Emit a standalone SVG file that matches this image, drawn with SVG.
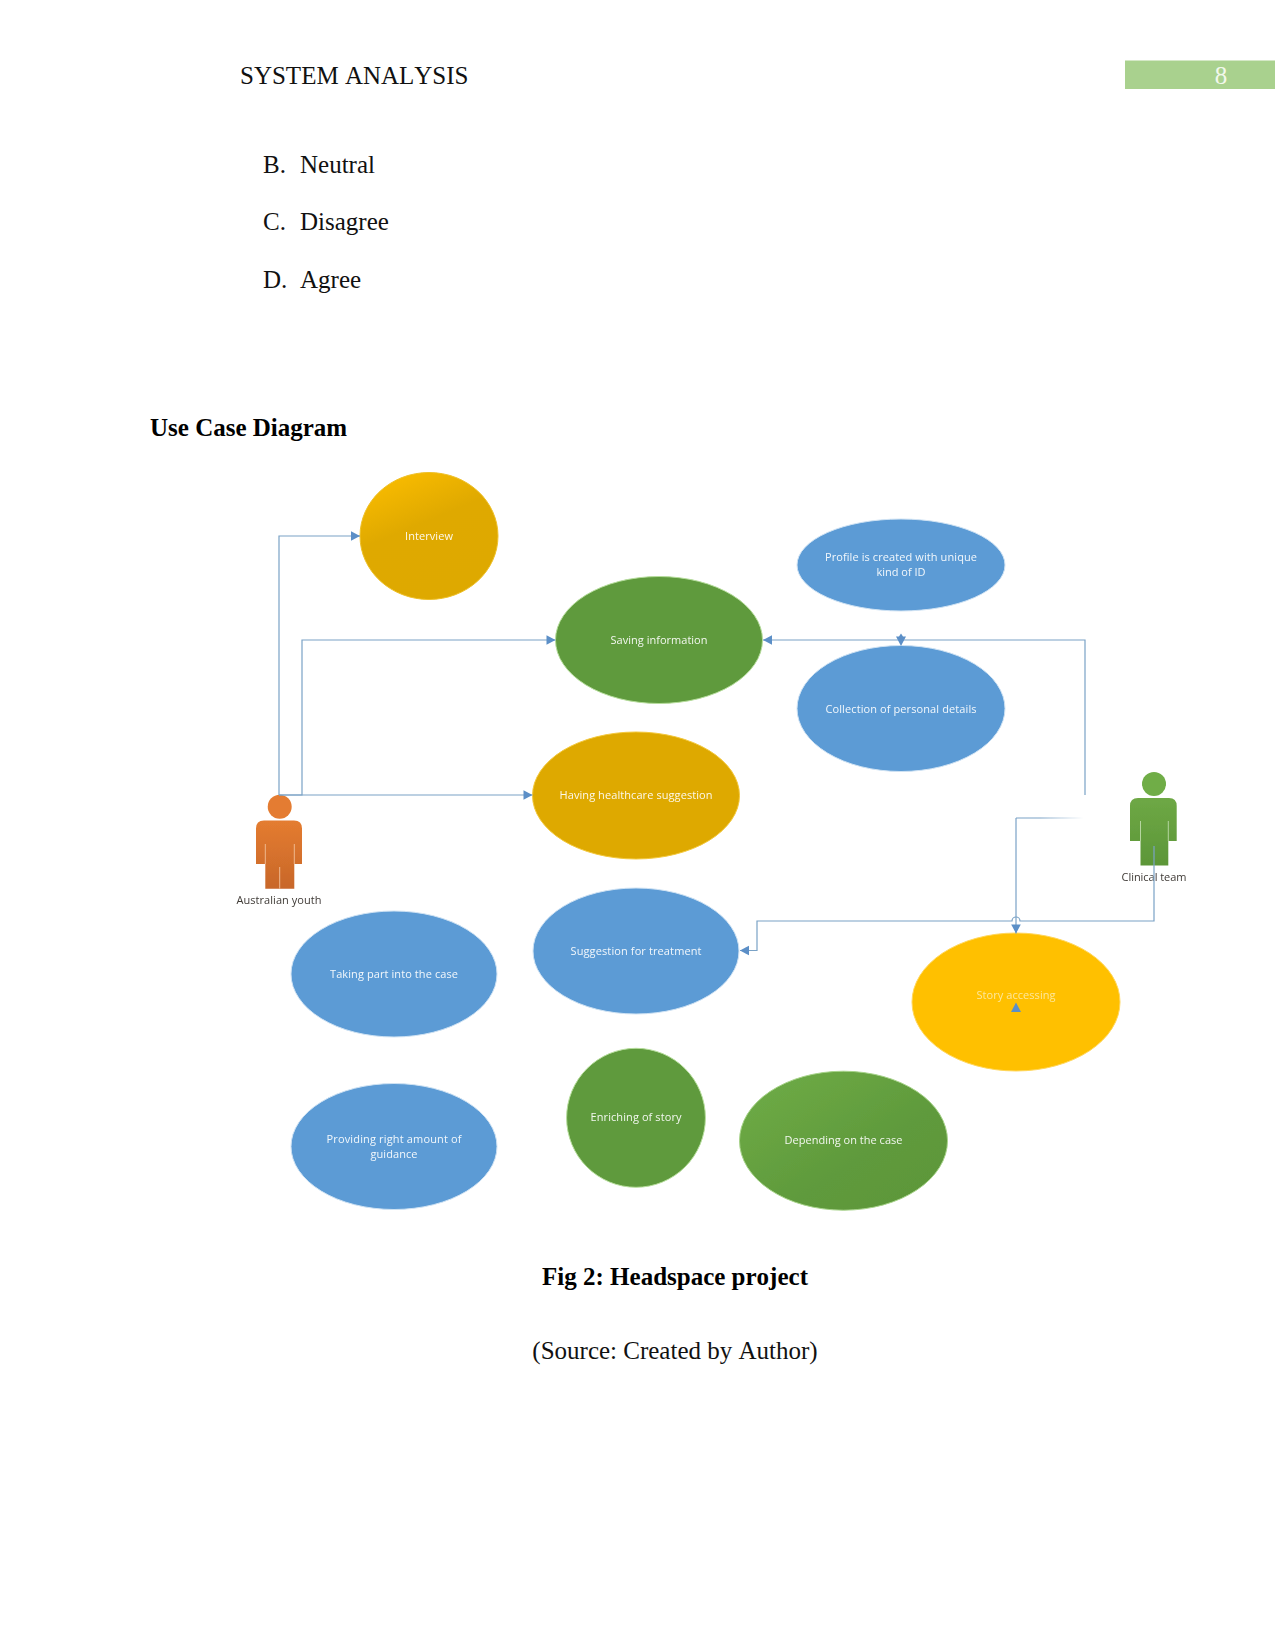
<svg xmlns="http://www.w3.org/2000/svg" width="1275" height="1650" viewBox="0 0 1275 1650">
  <style>
    .page { font-family: "Liberation Serif", "Times New Roman", serif; font-size: 25px; fill: #111; font-kerning: none; }
    .bold { font-weight: bold; fill: #000; }
    .mid { text-anchor: middle; }
    .uc { font-family: "Open Sans", "Noto Sans", sans-serif; font-size: 11px; fill: #fff; text-anchor: middle; dominant-baseline: central; opacity: .92; }
    .actor { font-family: "Open Sans", "Noto Sans", sans-serif; font-size: 11px; fill: #3f3a36; text-anchor: middle; }
    .link { fill: none; stroke: #7aa2c6; stroke-width: 1.2; }
    .tip { fill: #5b8fc7; stroke: none; }
    .blue { fill: #5b9bd5; stroke: #cfe2f3; stroke-width: 1; }
    .green { fill: #5f9a3c; stroke: #b6dd9c; stroke-width: 1; }
    .gold { fill: #dea900; stroke: #f3c83d; stroke-width: 1; }
    .amber { fill: #ffc000; stroke: #ffd65c; stroke-width: 1; }
    .slit { fill: none; stroke-width: 1; }
  </style>
  <defs>
    <linearGradient id="goldFade" x1="0" y1="0" x2="0.45" y2="1">
      <stop offset="0" stop-color="#ffc000"/>
      <stop offset="0.5" stop-color="#dfa900"/>
      <stop offset="1" stop-color="#dea900"/>
    </linearGradient>
    <linearGradient id="greenFade" x1="0" y1="0" x2="1" y2="1">
      <stop offset="0" stop-color="#70ad47"/>
      <stop offset="0.6" stop-color="#5f9a3c"/>
      <stop offset="1" stop-color="#5c9638"/>
    </linearGradient>
    <linearGradient id="orangeBody" x1="0" y1="0" x2="0" y2="1">
      <stop offset="0" stop-color="#e47c30"/>
      <stop offset="1" stop-color="#c8672a"/>
    </linearGradient>
    <linearGradient id="greenBody" x1="0" y1="0" x2="0" y2="1">
      <stop offset="0" stop-color="#6ea845"/>
      <stop offset="1" stop-color="#5c9638"/>
    </linearGradient>
    <linearGradient id="fadeOut" gradientUnits="userSpaceOnUse" x1="1040" y1="0" x2="1084" y2="0">
      <stop offset="0" stop-color="#7aa2c6"/>
      <stop offset="1" stop-color="#7aa2c6" stop-opacity="0"/>
    </linearGradient>
    <filter id="soft" x="-5%" y="-5%" width="110%" height="110%">
      <feGaussianBlur stdDeviation="0.45"/>
    </filter>
    <marker id="arrow" markerUnits="userSpaceOnUse" markerWidth="12" markerHeight="12" refX="10" refY="6" orient="auto">
      <path class="tip" d="M1,1.2 L10,6 L1,10.8 Z"/>
    </marker>
  </defs>

  <rect width="1275" height="1650" fill="#fff"/>

  <!-- running header -->
  <g id="header">
    <text class="page" x="240" y="83.5">SYSTEM ANALYSIS</text>
    <rect x="1125" y="60.5" width="150" height="28.5" fill="#a9d18e"/>
    <text class="page" x="1221" y="83.5" text-anchor="middle" style="fill:#f2f8ec">8</text>
  </g>

  <!-- answer options -->
  <g id="options">
    <text class="page" x="263" y="173">B.</text><text class="page" x="300" y="173">Neutral</text>
    <text class="page" x="263" y="230">C.</text><text class="page" x="300" y="230">Disagree</text>
    <text class="page" x="263" y="288">D.</text><text class="page" x="300" y="288">Agree</text>
  </g>

  <text id="heading" class="page bold" x="150" y="436">Use Case Diagram</text>

  <g id="diagram" filter="url(#soft)">
    <g id="uc-interview">
      <ellipse cx="429" cy="536" rx="69" ry="63.5" fill="url(#goldFade)" stroke="#eec02a"/>
      <text class="uc" x="429" y="535" textLength="48">Interview</text>
    </g>
    <g id="uc-saving">
      <ellipse class="green" cx="659" cy="640" rx="103.5" ry="63.5"/>
      <text class="uc" x="659" y="639" textLength="97">Saving information</text>
    </g>
    <g id="uc-healthcare">
      <ellipse class="gold" cx="636" cy="795.5" rx="103.5" ry="63.5"/>
      <text class="uc" x="636" y="794.5" textLength="153">Having healthcare suggestion</text>
    </g>
    <g id="uc-profile">
      <ellipse class="blue" cx="901" cy="565" rx="104" ry="46"/>
      <text class="uc" x="901" y="556" textLength="152">Profile is created with unique</text>
      <text class="uc" x="901" y="571" textLength="49">kind of ID</text>
    </g>
    <g id="uc-collection">
      <ellipse class="blue" cx="901" cy="708.5" rx="104" ry="63"/>
      <text class="uc" x="901" y="708" textLength="151">Collection of personal details</text>
    </g>
    <g id="uc-taking">
      <ellipse class="blue" cx="394" cy="974" rx="103" ry="63"/>
      <text class="uc" x="394" y="973" textLength="128">Taking part into the case</text>
    </g>
    <g id="uc-suggestion">
      <ellipse class="blue" cx="636" cy="951" rx="103" ry="63"/>
      <text class="uc" x="636" y="950" textLength="131">Suggestion for treatment</text>
    </g>
    <g id="uc-story">
      <ellipse class="amber" cx="1016" cy="1002" rx="104" ry="69"/>
      <text class="uc" x="1016" y="994" textLength="79" style="fill:#fdeaa8">Story accessing</text>
    </g>
    <g id="uc-guidance">
      <ellipse class="blue" cx="394" cy="1146.5" rx="103" ry="63"/>
      <text class="uc" x="394" y="1138" textLength="135">Providing right amount of</text>
      <text class="uc" x="394" y="1153" textLength="47">guidance</text>
    </g>
    <g id="uc-enriching">
      <ellipse class="green" cx="636" cy="1117.8" rx="69.4" ry="69.5"/>
      <text class="uc" x="636" y="1116.5" textLength="91">Enriching of story</text>
    </g>
    <g id="uc-depending">
      <ellipse cx="843.5" cy="1140.7" rx="104" ry="69.5" fill="url(#greenFade)" stroke="#a7d38a"/>
      <text class="uc" x="843.5" y="1139.7" textLength="118">Depending on the case</text>
    </g>

    <g id="actor-youth">
      <circle cx="279.7" cy="806.7" r="12" fill="#e47c30"/>
      <path d="M264,820.5 H294 Q302,820.5 302,828.5 V864 H294.3 V888.7 H265.3 V864 H256 V828.5 Q256,820.5 264,820.5 Z" fill="url(#orangeBody)"/>
      <path class="slit" d="M265.3,844 V864 M294.3,844 V864 M279.7,867 V888.7" stroke="#efb88e"/>
      <text class="actor" x="279" y="904" textLength="85">Australian youth</text>
    </g>
    <g id="actor-clinical">
      <circle cx="1154" cy="784" r="12" fill="#70ad47"/>
      <path d="M1138,798 H1169 Q1176.7,798 1176.7,806 V841 H1168.3 V865.5 H1140.5 V841 H1130 V806 Q1130,798 1138,798 Z" fill="url(#greenBody)"/>
      <path class="slit" d="M1140.5,821 V841 M1168.3,821 V841" stroke="#b5d59f"/>
      <text class="actor" x="1154" y="881" textLength="65">Clinical team</text>
    </g>

    <g id="connectors">
      <path class="link" d="M279,795 V536 H360" marker-end="url(#arrow)"/>
      <path class="link" d="M279,795 H302 V640 H555.5" marker-end="url(#arrow)"/>
      <path class="link" d="M279,795 H532.5" marker-end="url(#arrow)"/>
      <path class="link" d="M1085,795 V640 H763" marker-end="url(#arrow)"/>
      <path class="link" d="M1084,818 H1016" style="stroke:url(#fadeOut)"/>
      <path class="link" d="M1016,818 V933.5" marker-end="url(#arrow)"/>
      <path class="link" d="M1154,846 V921 H1020 A4,4 0 0 0 1012,921 H757 V950.5 H740" marker-end="url(#arrow)"/>
      <path class="tip" d="M901,633.5 L903,636.5 H906 L901,646 L896,636.5 H899 Z"/>
      <path class="tip" d="M1016,1002.5 L1021,1012 H1011 Z"/>
    </g>
  </g>

  <g id="caption">
    <text class="page bold mid" x="675" y="1285">Fig 2: Headspace project</text>
    <text class="page mid" x="675" y="1359">(Source: Created by Author)</text>
  </g>
</svg>
